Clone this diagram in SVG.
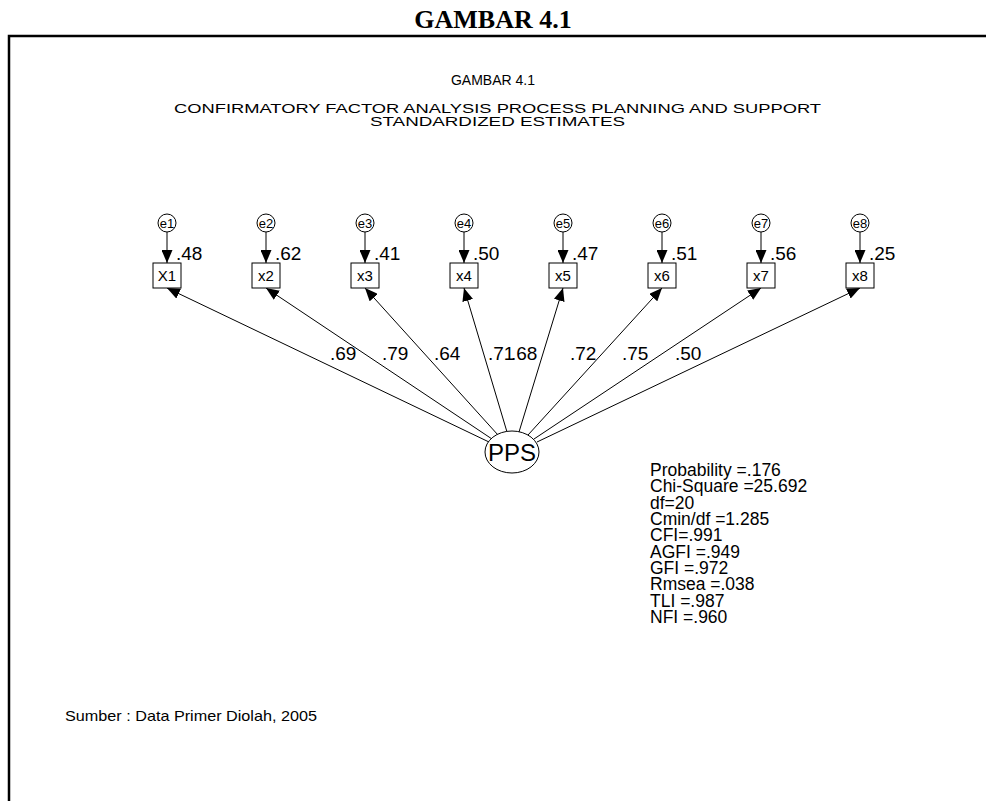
<svg xmlns="http://www.w3.org/2000/svg" width="986" height="801" viewBox="0 0 986 801">
<defs>
<marker id="ah" markerUnits="userSpaceOnUse" markerWidth="13" markerHeight="11" refX="13" refY="5.5" orient="auto"><path d="M0,0 L13,5.5 L0,11 z" fill="#000"/></marker>
<style>
.sans{font-family:"Liberation Sans",Arial,sans-serif;fill:#000}
.ln{stroke:#000;stroke-width:1;fill:none;marker-end:url(#ah)}
.nd{fill:#fff;stroke:#000;stroke-width:1}
.lbl{font-size:19px}
.el{font-size:13px;text-anchor:middle}
.bx{font-size:15px;text-anchor:middle}
.st{font-size:17.5px}
</style>
</defs>
<rect width="986" height="801" fill="#fff"/>
<text x="493" y="28" text-anchor="middle" font-family="'Liberation Serif','Times New Roman',serif" font-weight="bold" font-size="26">GAMBAR 4.1</text>
<path d="M9,801 V36 H986" fill="none" stroke="#000" stroke-width="2.5"/>
<g id="titles" class="sans">
<text x="493" y="85" font-size="14" text-anchor="middle">GAMBAR 4.1</text>
<text x="174" y="113" font-size="13.5" textLength="647" lengthAdjust="spacingAndGlyphs">CONFIRMATORY FACTOR ANALYSIS PROCESS PLANNING AND SUPPORT</text>
<text x="370" y="126" font-size="13.5" textLength="255" lengthAdjust="spacingAndGlyphs">STANDARDIZED ESTIMATES</text>
</g>
<g id="connectors">
<line class="ln" x1="167" y1="232" x2="167" y2="263"/>
<line class="ln" x1="266" y1="232" x2="266" y2="263"/>
<line class="ln" x1="365" y1="232" x2="365" y2="263"/>
<line class="ln" x1="464" y1="232" x2="464" y2="263"/>
<line class="ln" x1="563" y1="232" x2="563" y2="263"/>
<line class="ln" x1="662" y1="232" x2="662" y2="263"/>
<line class="ln" x1="761" y1="232" x2="761" y2="263"/>
<line class="ln" x1="860" y1="232" x2="860" y2="263"/>
<line class="ln" x1="489" y1="442" x2="167" y2="288"/>
<line class="ln" x1="492" y1="439" x2="266" y2="288"/>
<line class="ln" x1="498" y1="435" x2="365" y2="288"/>
<line class="ln" x1="507" y1="432" x2="464" y2="288"/>
<line class="ln" x1="519" y1="432" x2="563" y2="288"/>
<line class="ln" x1="528" y1="435" x2="662" y2="288"/>
<line class="ln" x1="534" y1="439" x2="761" y2="288"/>
<line class="ln" x1="537" y1="442" x2="860" y2="288"/>
</g>
<g id="e1"><ellipse class="nd" cx="167" cy="223" rx="9" ry="9"/><text class="sans el" x="167" y="228">e1</text></g>
<g id="e2"><ellipse class="nd" cx="266" cy="223" rx="9" ry="9"/><text class="sans el" x="266" y="228">e2</text></g>
<g id="e3"><ellipse class="nd" cx="365" cy="223" rx="9" ry="9"/><text class="sans el" x="365" y="228">e3</text></g>
<g id="e4"><ellipse class="nd" cx="464" cy="223" rx="9" ry="9"/><text class="sans el" x="464" y="228">e4</text></g>
<g id="e5"><ellipse class="nd" cx="563" cy="223" rx="9" ry="9"/><text class="sans el" x="563" y="228">e5</text></g>
<g id="e6"><ellipse class="nd" cx="662" cy="223" rx="9" ry="9"/><text class="sans el" x="662" y="228">e6</text></g>
<g id="e7"><ellipse class="nd" cx="761" cy="223" rx="9" ry="9"/><text class="sans el" x="761" y="228">e7</text></g>
<g id="e8"><ellipse class="nd" cx="860" cy="223" rx="9" ry="9"/><text class="sans el" x="860" y="228">e8</text></g>
<g id="X1"><rect class="nd" x="153" y="263" width="28" height="25"/><text class="sans bx" x="167" y="281">X1</text></g>
<g id="x2"><rect class="nd" x="252" y="263" width="28" height="25"/><text class="sans bx" x="266" y="281">x2</text></g>
<g id="x3"><rect class="nd" x="351" y="263" width="28" height="25"/><text class="sans bx" x="365" y="281">x3</text></g>
<g id="x4"><rect class="nd" x="450" y="263" width="28" height="25"/><text class="sans bx" x="464" y="281">x4</text></g>
<g id="x5"><rect class="nd" x="549" y="263" width="28" height="25"/><text class="sans bx" x="563" y="281">x5</text></g>
<g id="x6"><rect class="nd" x="648" y="263" width="28" height="25"/><text class="sans bx" x="662" y="281">x6</text></g>
<g id="x7"><rect class="nd" x="747" y="263" width="28" height="25"/><text class="sans bx" x="761" y="281">x7</text></g>
<g id="x8"><rect class="nd" x="846" y="263" width="28" height="25"/><text class="sans bx" x="860" y="281">x8</text></g>
<g id="PPS"><ellipse class="nd" cx="512" cy="452" rx="27" ry="21"/><text class="sans" x="512" y="461" font-size="24" text-anchor="middle">PPS</text></g>
<g id="labels" class="sans lbl">
<text x="176" y="260">.48</text>
<text x="275" y="260">.62</text>
<text x="374" y="260">.41</text>
<text x="473" y="260">.50</text>
<text x="572" y="260">.47</text>
<text x="671" y="260">.51</text>
<text x="770" y="260">.56</text>
<text x="869" y="260">.25</text>
<text x="330" y="360">.69</text>
<text x="382" y="360">.79</text>
<text x="434" y="360">.64</text>
<text x="488" y="360">.71</text>
<text x="511" y="360">.68</text>
<text x="570" y="360">.72</text>
<text x="622" y="360">.75</text>
<text x="675" y="360">.50</text>
</g>
<g id="stats" class="sans st">
<text x="650" y="476">Probability =.176</text>
<text x="650" y="492">Chi-Square =25.692</text>
<text x="650" y="509">df=20</text>
<text x="650" y="525">Cmin/df =1.285</text>
<text x="650" y="541">CFI=.991</text>
<text x="650" y="558">AGFI =.949</text>
<text x="650" y="574">GFI =.972</text>
<text x="650" y="590">Rmsea =.038</text>
<text x="650" y="607">TLI =.987</text>
<text x="650" y="623">NFI =.960</text>
</g>
<text class="sans" x="65" y="721" font-size="15" textLength="252" lengthAdjust="spacingAndGlyphs">Sumber : Data Primer Diolah, 2005</text>
</svg>
